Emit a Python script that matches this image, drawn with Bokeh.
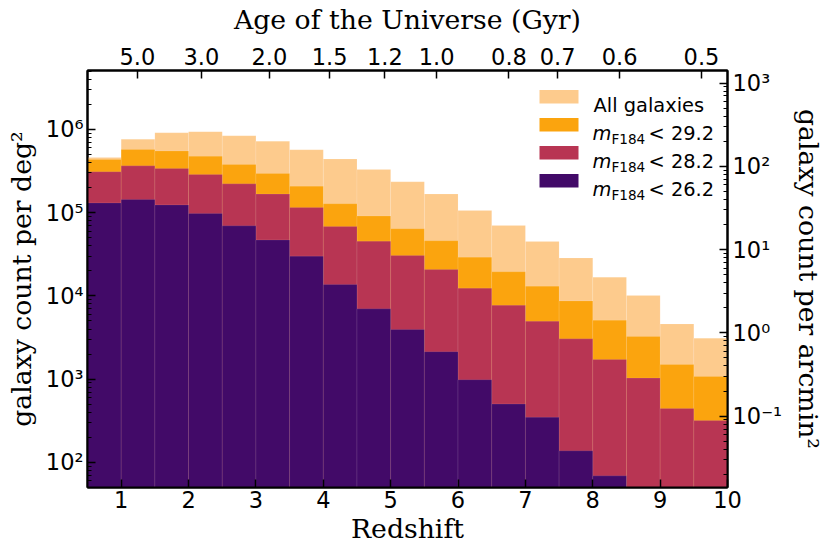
import math
from bokeh.plotting import figure
from bokeh.models import (Range1d, LogScale, LogAxis, LinearAxis, FixedTicker,
                          CustomJSTickFormatter, Label, BoxAnnotation)
from bokeh.embed import file_html
from bokeh.resources import INLINE

# ---------------- data ----------------
z_edges = [0.5, 1.0, 1.5, 2.0, 2.5, 3.0, 3.5, 4.0, 4.5, 5.0, 5.5, 6.0, 6.5,
           7.0, 7.5, 8.0, 8.5, 9.0, 9.5, 10.0]
all_galaxies = [4.6e5, 7.6e5, 9.1e5, 9.4e5, 8.4e5, 7.2e5, 5.7e5, 4.4e5, 3.3e5,
                2.35e5, 1.67e5, 1.06e5, 7.0e4, 4.5e4, 2.85e4, 1.68e4, 1.01e4,
                4.6e3, 3.1e3]
m_lt_292 = [4.35e5, 5.75e5, 5.5e5, 4.75e5, 3.8e5, 2.95e5, 2.08e5, 1.28e5, 9.1e4,
            6.4e4, 4.6e4, 2.92e4, 1.95e4, 1.31e4, 8.7e3, 5.1e3, 3.25e3, 1.5e3,
            1.08e3]
m_lt_282 = [3.1e5, 3.65e5, 3.4e5, 2.88e5, 2.22e5, 1.67e5, 1.15e5, 6.8e4, 4.55e4,
            3.05e4, 2.07e4, 1.24e4, 7.7e3, 4.95e3, 3.05e3, 1.72e3, 1.03e3, 445,
            318]
m_lt_262 = [1.31e5, 1.44e5, 1.24e5, 9.8e4, 6.95e4, 4.7e4, 3.0e4, 1.37e4, 7.0e3,
            3.95e3, 2.14e3, 985, 503, 348, 138, 69, 0, 0, 0]

series_names = ["All galaxies", "29.2", "28.2", "26.2"]
series_values = [all_galaxies, m_lt_292, m_lt_282, m_lt_262]
series_colors = ["#fdcb8d", "#fba40e", "#b83553", "#420a68"]

x_ticks = [1, 2, 3, 4, 5, 6, 7, 8, 9, 10]
age_labels = ["5.0", "3.0", "2.0", "1.5", "1.2", "1.0", "0.8", "0.7", "0.6", "0.5"]
DEG2_PER_ARCMIN2 = 3600.0

# ---------------- cosmology for the top axis (flat LCDM) ----------------
H0 = 67.7
Om = 0.31
OL = 1.0 - Om
hubble_time = 977.8 / H0  # Gyr


def z_of_age(t):
    s = math.sinh(t * 1.5 * math.sqrt(OL) / hubble_time) / math.sqrt(OL / Om)
    return s ** (-2.0 / 3.0) - 1.0


age_z = [z_of_age(float(a)) for a in age_labels]

# ---------------- figure ----------------
y_lo, y_hi = 50, 5.1e6
p = figure(width=830, height=550, y_axis_type="log",
           x_range=Range1d(0.5, 10.0), y_range=Range1d(y_lo, y_hi),
           output_backend="svg", toolbar_location=None,
           min_border_left=87, min_border_right=103,
           min_border_top=70, min_border_bottom=63)
p.xgrid.visible = False
p.ygrid.visible = False
p.outline_line_color = "black"
p.outline_line_width = 2
p.background_fill_color = "white"
p.border_fill_color = "white"

for vals, col in zip(series_values, series_colors):
    left, right, top = [], [], []
    for i, v in enumerate(vals):
        if v > 0:
            left.append(z_edges[i])
            right.append(z_edges[i + 1])
            top.append(v)
    p.quad(left=left, right=right, top=top, bottom=[1] * len(top),
           fill_color=col, fill_alpha=1.0, line_color="white",
           line_alpha=0.1, line_width=1)

TICK_FONT = "DejaVu Sans"
LABEL_FONT = "DejaVu Serif"
TICK_SIZE = "22.5px"
LABEL_SIZE = "26.7px"

sup = """const sup = {"-":"\u207b","0":"\u2070","1":"\u00b9","2":"\u00b2","3":"\u00b3",
"4":"\u2074","5":"\u2075","6":"\u2076","7":"\u2077","8":"\u2078","9":"\u2079"};
const e = Math.round(Math.log10(tick));
return "10" + String(e).split("").map(c => sup[c]).join("");"""
log_fmt = CustomJSTickFormatter(code=sup)


def style(ax, minor=True):
    ax.axis_line_color = "black"
    ax.axis_line_width = 2
    ax.major_tick_in = 8
    ax.major_tick_out = 0
    ax.major_tick_line_width = 1.5
    ax.major_tick_line_color = "black"
    if minor:
        ax.minor_tick_in = 4
        ax.minor_tick_out = 0
        ax.minor_tick_line_width = 1
        ax.minor_tick_line_color = "black"
    else:
        ax.minor_tick_line_color = None
    ax.major_label_text_font = TICK_FONT
    ax.major_label_text_font_size = TICK_SIZE
    ax.major_label_text_color = "black"
    ax.axis_label_text_font = LABEL_FONT
    ax.axis_label_text_font_size = LABEL_SIZE
    ax.axis_label_text_font_style = "normal"
    ax.axis_label_text_color = "black"


def log_ticks(lo_exp, hi_exp):
    major = [10.0 ** e for e in range(lo_exp, hi_exp + 1)]
    minor = [k * 10.0 ** e for e in range(lo_exp - 1, hi_exp + 1) for k in range(2, 10)]
    return major, minor


# bottom x axis
xax = p.xaxis[0]
xax.ticker = FixedTicker(ticks=x_ticks, minor_ticks=[])
xax.axis_label = "Redshift"
style(xax, minor=False)
xax.major_label_standoff = 3
xax.axis_label_standoff = 2

# left y axis
yax = p.yaxis[0]
maj, mnr = log_ticks(2, 6)
yax.ticker = FixedTicker(ticks=maj, minor_ticks=mnr)
yax.formatter = log_fmt
yax.axis_label = "galaxy count per deg\u00b2"
style(yax)
yax.major_label_standoff = 4
yax.axis_label_standoff = 6

# right y axis (per arcmin^2)
p.extra_y_ranges = {"arcmin": Range1d(y_lo / DEG2_PER_ARCMIN2, y_hi / DEG2_PER_ARCMIN2)}
p.extra_y_scales = {"arcmin": LogScale()}
maj_r, mnr_r = log_ticks(-1, 3)
rax = LogAxis(y_range_name="arcmin",
              ticker=FixedTicker(ticks=maj_r, minor_ticks=mnr_r),
              formatter=CustomJSTickFormatter(code=sup),
              axis_label="galaxy count per arcmin\u00b2")
style(rax)
rax.major_label_standoff = 5
rax.axis_label_standoff = 8
p.add_layout(rax, "right")

# top axis: age of the Universe
tax = LinearAxis(ticker=FixedTicker(ticks=age_z, minor_ticks=[]),
                 formatter=CustomJSTickFormatter(
                     args=dict(zs=age_z, labs=age_labels),
                     code="""let best = 0, bd = Infinity;
for (let i = 0; i < zs.length; i++) { const d = Math.abs(zs[i] - tick); if (d < bd) { bd = d; best = i; } }
return labs[best];"""),
                 axis_label="Age of the Universe (Gyr)")
style(tax, minor=False)
tax.major_label_standoff = 6
tax.axis_label_standoff = 10
p.add_layout(tax, "above")

# ---------------- legend (manual, screen units relative to frame) ----------------
LEG_FONT = "19.4px"
SUB_FONT = "13.6px"
sw_left, sw_w, sw_h = 452, 39, 13.4
row_top0, row_step = 397.4, 28
txt_x = 506
base0 = 381.7
for i, (name, col) in enumerate(zip(series_names, series_colors)):
    top = row_top0 - i * row_step
    p.add_layout(BoxAnnotation(left=sw_left, right=sw_left + sw_w, top=top, bottom=top - sw_h,
                               left_units="screen", right_units="screen",
                               top_units="screen", bottom_units="screen",
                               fill_color=col, fill_alpha=1.0, line_color=None))
    base = base0 - i * row_step
    if i == 0:
        p.add_layout(Label(x=txt_x, y=base, x_units="screen", y_units="screen", text=name,
                           text_font=TICK_FONT, text_font_size=LEG_FONT,
                           text_color="black", text_baseline="alphabetic"))
    else:
        p.add_layout(Label(x=txt_x - 1, y=base, x_units="screen", y_units="screen", text="m",
                           text_font=TICK_FONT, text_font_style="italic",
                           text_font_size=LEG_FONT, text_color="black",
                           text_baseline="alphabetic"))
        p.add_layout(Label(x=txt_x + 18, y=base - 5, x_units="screen", y_units="screen",
                           text="F184", text_font=TICK_FONT, text_font_size=SUB_FONT,
                           text_color="black", text_baseline="alphabetic"))
        p.add_layout(Label(x=txt_x + 55, y=base, x_units="screen", y_units="screen",
                           text="< " + name, text_font=TICK_FONT, text_font_size=LEG_FONT,
                           text_color="black", text_baseline="alphabetic"))

open("out.html", "w").write(file_html(p, INLINE))
